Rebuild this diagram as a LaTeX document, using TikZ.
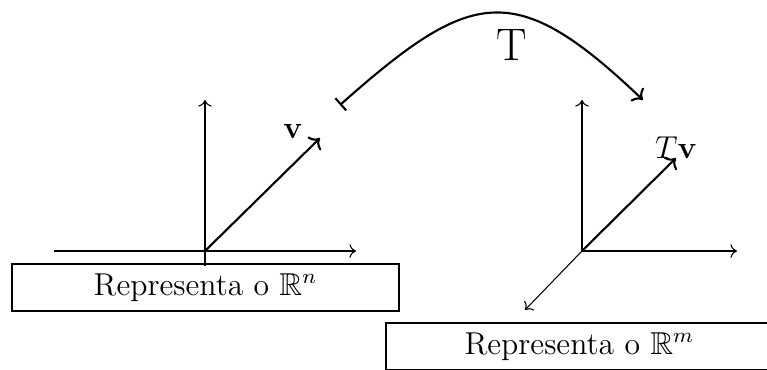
\documentclass[tikz,border=0pt]{standalone}
\usepackage{amssymb}
\usetikzlibrary{arrows.meta}
\begin{document}
\begin{tikzpicture}[x=0.379pt,y=-0.379pt,
  axis/.style={->,line width=0.4pt},
  vec/.style={->,line width=0.8pt},
  box/.style={draw,line width=0.4pt,font=\large,minimum width=387*0.379pt,minimum height=47*0.379pt,inner sep=0pt}]
\useasboundingbox (0,0) rectangle (767,369);
% left axes
\coordinate (O1) at (205,251);
\coordinate (Y1) at (205,100);
\coordinate (Y1b) at (205,266);
\coordinate (X1a) at (54,251);
\coordinate (X1) at (356,251);
\coordinate (V1) at (320,138);
\draw[axis] (Y1b) -- (Y1);
\draw[axis] (X1a) -- (X1);
\draw[vec] (O1) -- (V1);
\node[font=\large] (lv) at (293,131) {$\mathbf{v}$};
\node[box] (b1) at (205.5,287.5) {Representa o $\mathbb{R}^n$};
% right axes
\coordinate (O2) at (582,251);
\coordinate (Y2) at (582,100);
\coordinate (X2) at (737,251);
\coordinate (Z2) at (525,310);
\coordinate (V2) at (676,158);
\draw[axis] (O2) -- (Y2);
\draw[axis] (O2) -- (X2);
\draw[axis] (O2) -- (Z2);
\draw[vec] (O2) -- (V2);
\node[font=\large] (lt) at (676,148) {$T\mathbf{v}$};
\node[box] (b2) at (579.5,346.5) {Representa o $\mathbb{R}^m$};
% arc
\coordinate (A) at (340,105);
\coordinate (B) at (643,100);
\draw[|->,line width=0.8pt] (A) .. controls (472,-12) and (515,-22) .. (B);
\node[font=\LARGE] (lT) at (512,45) {T};
\end{tikzpicture}
\end{document}
